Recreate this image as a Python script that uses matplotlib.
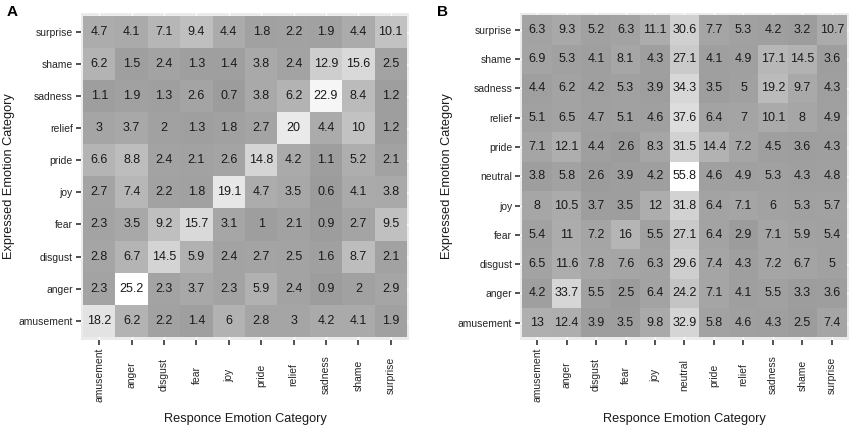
import numpy as np
import matplotlib.pyplot as plt
from matplotlib.colors import LinearSegmentedColormap

plt.rcParams['font.family'] = ['Liberation Sans', 'DejaVu Sans']

# =========================
# DATA
# =========================

rows_a = ["surprise", "shame", "sadness", "relief", "pride", "joy",
          "fear", "disgust", "anger", "amusement"]
cols_a = ["amusement", "anger", "disgust", "fear", "joy", "pride",
          "relief", "sadness", "shame", "surprise"]
values_a = [
    [4.7, 4.1, 7.1, 9.4, 4.4, 1.8, 2.2, 1.9, 4.4, 10.1],
    [6.2, 1.5, 2.4, 1.3, 1.4, 3.8, 2.4, 12.9, 15.6, 2.5],
    [1.1, 1.9, 1.3, 2.6, 0.7, 3.8, 6.2, 22.9, 8.4, 1.2],
    [3, 3.7, 2, 1.3, 1.8, 2.7, 20, 4.4, 10, 1.2],
    [6.6, 8.8, 2.4, 2.1, 2.6, 14.8, 4.2, 1.1, 5.2, 2.1],
    [2.7, 7.4, 2.2, 1.8, 19.1, 4.7, 3.5, 0.6, 4.1, 3.8],
    [2.3, 3.5, 9.2, 15.7, 3.1, 1, 2.1, 0.9, 2.7, 9.5],
    [2.8, 6.7, 14.5, 5.9, 2.4, 2.7, 2.5, 1.6, 8.7, 2.1],
    [2.3, 25.2, 2.3, 3.7, 2.3, 5.9, 2.4, 0.9, 2, 2.9],
    [18.2, 6.2, 2.2, 1.4, 6, 2.8, 3, 4.2, 4.1, 1.9],
]

rows_b = ["surprise", "shame", "sadness", "relief", "pride", "neutral",
          "joy", "fear", "disgust", "anger", "amusement"]
cols_b = ["amusement", "anger", "disgust", "fear", "joy", "neutral",
          "pride", "relief", "sadness", "shame", "surprise"]
values_b = [
    [6.3, 9.3, 5.2, 6.3, 11.1, 30.6, 7.7, 5.3, 4.2, 3.2, 10.7],
    [6.9, 5.3, 4.1, 8.1, 4.3, 27.1, 4.1, 4.9, 17.1, 14.5, 3.6],
    [4.4, 6.2, 4.2, 5.3, 3.9, 34.3, 3.5, 5, 19.2, 9.7, 4.3],
    [5.1, 6.5, 4.7, 5.1, 4.6, 37.6, 6.4, 7, 10.1, 8, 4.9],
    [7.1, 12.1, 4.4, 2.6, 8.3, 31.5, 14.4, 7.2, 4.5, 3.6, 4.3],
    [3.8, 5.8, 2.6, 3.9, 4.2, 55.8, 4.6, 4.9, 5.3, 4.3, 4.8],
    [8, 10.5, 3.7, 3.5, 12, 31.8, 6.4, 7.1, 6, 5.3, 5.7],
    [5.4, 11, 7.2, 16, 5.5, 27.1, 6.4, 2.9, 7.1, 5.9, 5.4],
    [6.5, 11.6, 7.8, 7.6, 6.3, 29.6, 7.4, 4.3, 7.2, 6.7, 5],
    [4.2, 33.7, 5.5, 2.5, 6.4, 24.2, 7.1, 4.1, 5.5, 3.3, 3.6],
    [13, 12.4, 3.9, 3.5, 9.8, 32.9, 5.8, 4.6, 4.3, 2.5, 7.4],
]

# =========================
# FIGURE
# =========================

W, H = 851, 426
fig = plt.figure(figsize=(W / 100, H / 100), dpi=100)

cmap = LinearSegmentedColormap.from_list("greys", ["#9c9c9c", "#ffffff"])


def draw_panel(left_px, rows, cols, values, letter, letter_x, ylabel_x):
    ax = fig.add_axes([left_px / W, (H - 339.5) / H, 329 / W, 326.5 / H])
    data = np.array(values)
    n = len(rows)
    # rows listed top to bottom, so flip for drawing
    data_plot = data[::-1]
    ax.set_facecolor("#ebebeb")
    ax.set_axisbelow(True)
    ax.grid(True, color="white", linewidth=1.0)
    ax.pcolormesh(np.arange(n + 1) - 0.5, np.arange(n + 1) - 0.5, data_plot,
                  cmap=cmap, vmin=data.min(), vmax=data.max(), zorder=2)
    for i in range(n):
        for j in range(len(cols)):
            ax.text(j, n - 1 - i, f"{data[i, j]:g}", ha="center", va="center",
                    fontsize=9, color="#1a1a1a", zorder=3)
    m = 0.08
    ax.set_xlim(-0.5 - m, len(cols) - 0.5 + m)
    ax.set_ylim(-0.5 - m, n - 0.5 + m)
    ax.set_xticks(range(len(cols)))
    ax.set_xticklabels(cols, rotation=90, va="center", ha="center")
    ax.set_yticks(range(n))
    ax.set_yticklabels(rows[::-1])
    ax.tick_params(axis="x", length=3.5, width=1.2, color="#333333",
                   labelsize=7.5, labelcolor="#262626", pad=22)
    ax.tick_params(axis="y", length=3.5, width=1.2, color="#333333",
                   labelsize=7.5, labelcolor="#262626", pad=2)
    for s in ax.spines.values():
        s.set_visible(False)
    ax.set_xlabel("Responce Emotion Category", fontsize=9.2, color="#1a1a1a")
    ax.xaxis.set_label_coords(0.5, -(412.7 - 339.5) / 326.5)
    fig.text(ylabel_x / W, 1 - 176 / H, "Expressed Emotion Category",
             rotation=90, ha="center", va="center", fontsize=9.2, color="#1a1a1a")
    fig.text(letter_x / W, 1 - 12 / H, letter, fontsize=11, fontweight="bold",
             ha="left", va="center")
    return ax


draw_panel(80.5, rows_a, cols_a, values_a, "A", 7, 9)
draw_panel(520, rows_b, cols_b, values_b, "B", 437, 447)

fig.savefig("out.png", dpi=100)
